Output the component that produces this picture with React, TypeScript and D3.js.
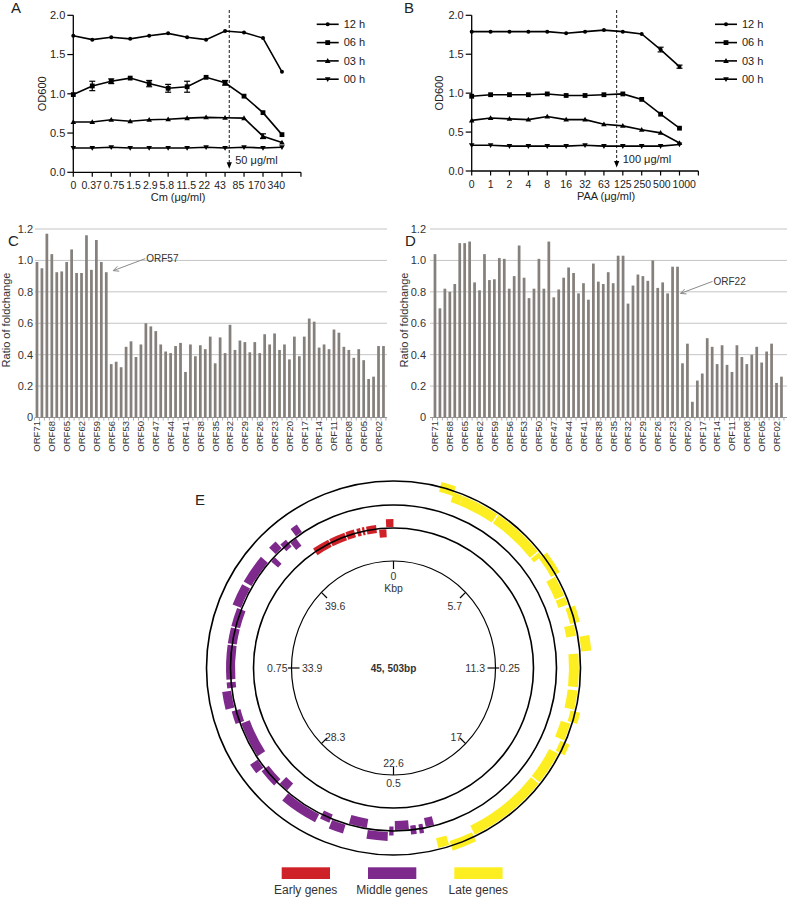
import React from "react";
import * as d3 from "d3";

const FONT = "'Liberation Sans', Arial, Helvetica, sans-serif";

// ---------------- Panel A (Cm) ----------------
const cmTickLabels = ["0", "0.37", "0.75", "1.5", "2.9", "5.8", "11.5", "22", "43", "85", "170", "340"];
const cmConc = [0, 0.37, 0.75, 1.5, 2.9, 5.8, 11.5, 22, 43, 85, 170, 340];
const cm12h = [1.74, 1.69, 1.72, 1.70, 1.74, 1.77, 1.72, 1.69, 1.80, 1.78, 1.71, 1.28];
const cm06h = [0.99, 1.10, 1.16, 1.20, 1.13, 1.07, 1.09, 1.21, 1.14, 0.97, 0.76, 0.48];
const cm03h = [0.64, 0.64, 0.67, 0.65, 0.67, 0.675, 0.69, 0.70, 0.695, 0.69, 0.46, 0.38];
const cm00h = [0.31, 0.31, 0.32, 0.31, 0.31, 0.31, 0.31, 0.32, 0.31, 0.32, 0.31, 0.32];
const cm06hErr = [0, 0.06, 0.03, 0, 0.04, 0.05, 0.07, 0, 0.03, 0, 0, 0];
const cm03hErr = [0, 0, 0, 0, 0, 0, 0, 0, 0, 0, 0.03, 0];
const cmCutoff = 50;

// ---------------- Panel B (PAA) ----------------
const paaTickLabels = ["0", "1", "2", "4", "8", "16", "32", "63", "125", "250", "500", "1000"];
const paaConc = [0, 1, 2, 4, 8, 16, 32, 63, 125, 250, 500, 1000];
const paa12h = [1.79, 1.79, 1.79, 1.79, 1.79, 1.77, 1.79, 1.81, 1.79, 1.76, 1.56, 1.34];
const paa06h = [0.96, 0.98, 0.98, 0.98, 0.99, 0.97, 0.97, 0.98, 0.99, 0.92, 0.73, 0.55];
const paa03h = [0.65, 0.68, 0.67, 0.66, 0.70, 0.66, 0.66, 0.60, 0.58, 0.53, 0.49, 0.36];
const paa00h = [0.33, 0.33, 0.32, 0.32, 0.32, 0.32, 0.33, 0.32, 0.32, 0.32, 0.32, 0.34];
const paa12hErr = [0, 0, 0, 0, 0, 0, 0, 0, 0, 0, 0.03, 0.02];
const paaCutoff = 100;

const timeLabels = ["12 h", "06 h", "03 h", "00 h"];
const odTicks = [0, 0.5, 1.0, 1.5, 2.0];

// ---------------- Panels C / D ----------------
const orfNames = d3.range(71, 0, -1).map((n) => "ORF" + String(n).padStart(2, "0"));
const foldCm = [
  0.99, 0.95, 1.17, 1.04, 0.925, 0.93, 0.99, 1.07, 0.92, 0.92, 1.16, 0.94, 1.13, 0.99, 0.925,
  0.34, 0.355, 0.32, 0.45, 0.485, 0.385, 0.465, 0.60, 0.58, 0.55, 0.465, 0.42, 0.41, 0.455, 0.475,
  0.29, 0.465, 0.39, 0.46, 0.435, 0.515, 0.345, 0.51, 0.41, 0.59, 0.43, 0.49, 0.48, 0.415, 0.48,
  0.41, 0.53, 0.465, 0.535, 0.43, 0.465, 0.37, 0.515, 0.39, 0.515, 0.63, 0.61, 0.445, 0.465, 0.435,
  0.56, 0.54, 0.45, 0.43, 0.38, 0.435, 0.365, 0.245, 0.26, 0.455, 0.455,
];
const foldPaa = [
  1.04, 0.695, 0.82, 0.80, 0.85, 1.11, 1.11, 1.12, 0.86, 0.81,
  1.04, 0.875, 0.88, 1.015, 1.01, 0.82, 0.90, 1.095, 0.89, 0.76,
  0.82, 1.01, 0.82, 1.12, 0.765, 0.815, 0.89, 0.955, 0.92, 0.79,
  0.855, 0.75, 0.98, 0.865, 0.85, 0.925, 0.855, 1.03, 1.03, 0.725,
  0.84, 0.91, 0.90, 0.87, 1.00, 0.825, 0.86, 0.79, 0.96, 0.96,
  0.345, 0.47, 0.10, 0.235, 0.28, 0.505, 0.45, 0.34, 0.46, 0.335,
  0.29, 0.46, 0.385, 0.34, 0.40, 0.45, 0.35, 0.42, 0.47, 0.22, 0.26,
];
const ratioTicks = [0, 0.2, 0.4, 0.6, 0.8, 1.0, 1.2];
const ratioTickLabels = ["0", "0.2", "0.4", "0.6", "0.8", "1.0", "1.2"];

// ---------------- Panel E ----------------
const genomeKb = 45.503;
const genomeLabel = "45, 503bp";
const scaleTickLabels = ["0", "5.7", "11.3", "17", "22.6", "28.3", "33.9", "39.6"];
const fractionLabels = ["0.25", "0.5", "0.75"];
// [start kb, end kb, lane (-1 inner, 0 on ring, 1 outer)]
const earlyGenes = [
  [41.21, 42.09, 0], [42.15, 42.98, 0], [43.04, 43.48, 0], [43.61, 43.8, 0],
  [43.89, 44.01, 0], [44.11, 44.62, 0], [44.75, 45.13, -1], [45.13, 45.5, 1],
];
const middleGenes = [
  [20.92, 21.3, -1], [21.42, 21.61, 0], [21.74, 21.99, 0], [22.06, 22.69, -1], [22.75, 22.94, 0],
  [23.0, 23.89, 1], [23.95, 24.77, -1], [24.9, 25.53, 1], [25.6, 26.04, 0], [26.16, 27.81, 1],
  [27.93, 28.38, -1], [28.5, 29.32, 0], [29.39, 29.83, 1], [29.96, 31.6, -1], [31.66, 32.23, 0],
  [32.36, 33.12, 1], [33.24, 33.5, 0], [33.62, 35.14, 0], [35.2, 35.9, 0], [35.96, 36.78, 0],
  [36.85, 37.79, 1], [37.92, 39.18, 1], [39.31, 39.56, -1], [39.69, 40.07, 1], [40.13, 40.45, 0],
  [40.51, 40.83, -1], [40.89, 41.21, 1],
];
const lateGenes = [
  [1.83, 2.4, 0], [2.4, 2.78, -1], [2.78, 4.3, -1], [4.36, 6.45, -1], [6.51, 6.7, -1],
  [6.7, 7.58, 0], [7.65, 8.47, -1], [8.53, 8.85, -1], [8.97, 9.61, 0], [9.67, 10.11, -1],
  [10.17, 10.74, 1], [10.81, 12.13, -1], [12.26, 13.02, -1], [13.08, 13.52, 0], [13.59, 14.28, -1],
  [14.35, 14.79, 0], [14.85, 16.18, -1], [16.24, 19.47, -1], [19.53, 20.48, 0], [20.54, 20.98, -1],
];
const geneGroups = ["Early genes", "Middle genes", "Late genes"];
const geneColors = ["#cf2128", "#7d2a8c", "#fcee21"];

// ======================================================
type Series = { name: string; values: number[]; err: number[] | null; marker: string };

function estWidth(s: string, fs: number) {
  let w = 0;
  for (const ch of s) w += ch === "." ? 0.278 : 0.556;
  return w * fs;
}

function Marker({ kind, x, y }: { kind: string; x: number; y: number }) {
  if (kind === "circle") return <circle cx={x} cy={y} r={2} fill="#000" />;
  if (kind === "square") return <rect x={x - 2.4} y={y - 2.4} width={4.8} height={4.8} fill="#000" />;
  if (kind === "up") return <path d={`M${x},${y - 2.8}L${x + 2.8},${y + 2}L${x - 2.8},${y + 2}Z`} fill="#000" />;
  return <path d={`M${x},${y + 2.8}L${x + 2.8},${y - 2}L${x - 2.8},${y - 2}Z`} fill="#000" />;
}

function LinePanel(props: any) {
  const { x0, step, labelStep, yZero, yTwo, tickLabels, conc, series, cutoff, xTitle, xTitleX, legendX, label, labelX, yTitleX } = props;
  const x = d3.scaleLinear().domain([0, 12]).range([x0, x0 + 12 * step]);
  const xl = d3.scaleLinear().domain([0, 12]).range([x0, x0 + 12 * labelStep]);
  const y = d3.scaleLinear().domain([0, 2]).range([yZero, yTwo]);
  const line = d3.line<number>().x((_, i) => x(i)).y((d) => y(d));
  let ci = 0;
  for (let i = 1; i < conc.length - 1; i++) {
    if (conc[i] <= cutoff && cutoff < conc[i + 1]) ci = i + Math.log(cutoff / conc[i]) / Math.log(conc[i + 1] / conc[i]);
  }
  const cx = x(ci);
  // non-overlapping tick label layout
  const fs = 10.5;
  let prevEnd = -1e9;
  const labelPos = tickLabels.map((t: string, i: number) => {
    const w = estWidth(t, fs);
    let start = xl(i) - w / 2;
    if (start < prevEnd + 2) start = prevEnd + 2;
    prevEnd = start + w;
    return start + w / 2;
  });
  return (
    <g>
      <text x={labelX} y={13} fontSize={15} fill="#222">{label}</text>
      <line x1={x0} x2={x0} y1={yZero} y2={yTwo} stroke="#000" strokeWidth={1.3} />
      <line x1={x0} x2={x(12)} y1={yZero} y2={yZero} stroke="#000" strokeWidth={1.3} />
      {odTicks.map((v) => (
        <g key={v}>
          <line x1={x0 - 6} x2={x0} y1={y(v)} y2={y(v)} stroke="#000" strokeWidth={1.2} />
          <text x={x0 - 8} y={y(v)} dy="0.35em" textAnchor="end" fontSize={11} fill="#222">{v.toFixed(1)}</text>
        </g>
      ))}
      {d3.range(13).map((i) => (
        <line key={i} x1={x(i)} x2={x(i)} y1={yZero} y2={yZero + 4.5} stroke="#000" strokeWidth={1.2} />
      ))}
      {tickLabels.map((t: string, i: number) => (
        <text key={t} x={labelPos[i]} y={yZero + 17} textAnchor="middle" fontSize={fs} fill="#222">{t}</text>
      ))}
      <text x={xTitleX} y={yZero + 28.5} textAnchor="middle" fontSize={11} fill="#222">{xTitle}</text>
      <text transform={`translate(${yTitleX},${(yZero + yTwo) / 2}) rotate(-90)`} dy="0.35em" textAnchor="middle" fontSize={11} fill="#222">OD600</text>
      {series.map((s: Series) => (
        <g key={s.name}>
          <path d={line(s.values) || ""} fill="none" stroke="#000" strokeWidth={1.6} />
          {s.err && s.values.map((v, i) => s.err![i] > 0 ? (
            <g key={i} stroke="#000" strokeWidth={1.2}>
              <line x1={x(i)} x2={x(i)} y1={y(v - s.err![i])} y2={y(v + s.err![i])} />
              <line x1={x(i) - 3} x2={x(i) + 3} y1={y(v - s.err![i])} y2={y(v - s.err![i])} />
              <line x1={x(i) - 3} x2={x(i) + 3} y1={y(v + s.err![i])} y2={y(v + s.err![i])} />
            </g>
          ) : null)}
          {s.values.map((v, i) => <Marker key={i} kind={s.marker} x={x(i)} y={y(v)} />)}
        </g>
      ))}
      <line x1={cx} x2={cx} y1={10} y2={yZero - 9} stroke="#000" strokeWidth={0.9} strokeDasharray="3,2" />
      <path d={`M${cx - 2.6},${yZero - 10}L${cx + 2.6},${yZero - 10}L${cx},${yZero - 3.5}Z`} fill="#000" />
      <text x={cx + 6} y={yZero - 8.5} fontSize={11} fill="#222">{`${cutoff} μg/ml`}</text>
      {series.map((s: Series, i: number) => {
        const ly = 24.3 + i * 18.3;
        return (
          <g key={s.name}>
            <line x1={legendX} x2={legendX + 22} y1={ly} y2={ly} stroke="#000" strokeWidth={1.6} />
            <Marker kind={s.marker} x={legendX + 11} y={ly} />
            <text x={legendX + 27} y={ly} dy="0.35em" fontSize={11} fill="#222">{s.name}</text>
          </g>
        );
      })}
    </g>
  );
}

function BarPanel(props: any) {
  const { values, gridLeft, gridRight, barStart, label, labelX, yTitleX, tickRight, annot } = props;
  const step = 4.95;
  const x = d3.scaleBand().domain(orfNames).range([barStart, barStart + orfNames.length * step]).paddingInner(0.45).paddingOuter(0.225);
  const y = d3.scaleLinear().domain([0, 1.2]).range([417.5, 229]);
  const bw = x.bandwidth();
  const tipX = (x(annot.name) as number) + bw / 2 + annot.dx;
  const tipY = y(annot.atValue);
  const tailX = tipX + 32;
  const tailY = tipY - 12;
  const ang = Math.atan2(tailY - tipY, tailX - tipX);
  const ah = 6;
  return (
    <g>
      <text x={labelX} y={246} fontSize={15} fill="#222">{label}</text>
      {ratioTicks.map((v, i) => (
        <g key={v}>
          <line x1={gridLeft} x2={gridRight} y1={y(v)} y2={y(v)} stroke={v === 0 ? "#999" : "#c4c4c4"} strokeWidth={1} />
          <text x={tickRight} y={y(v)} dy="0.35em" textAnchor="end" fontSize={11} fill="#333">{ratioTickLabels[i]}</text>
        </g>
      ))}
      {orfNames.map((n, i) => (
        <rect key={n} x={x(n)} y={y(values[i])} width={bw} height={y(0) - y(values[i])} fill="#85807c" />
      ))}
      {d3.range(orfNames.length + 1).map((i) => {
        const xx = barStart + i * step;
        return <line key={i} x1={xx} x2={xx} y1={y(0)} y2={y(0) + 3} stroke="#999" strokeWidth={0.8} />;
      })}
      {orfNames.map((n, i) => i % 3 === 0 ? (
        <text key={n} transform={`translate(${(x(n) as number) + bw / 2},${421}) rotate(-90)`} dy="0.35em" textAnchor="end" fontSize={9.5} fill="#333">{n}</text>
      ) : null)}
      <text transform={`translate(${yTitleX},${320}) rotate(-90)`} dy="0.35em" textAnchor="middle" fontSize={11} fill="#333">Ratio of foldchange</text>
      <g stroke="#8a8a8a" strokeWidth={1} fill="none">
        <line x1={tipX} y1={tipY} x2={tailX} y2={tailY} />
        <line x1={tipX} y1={tipY} x2={tipX + ah * Math.cos(ang + 0.45)} y2={tipY + ah * Math.sin(ang + 0.45)} />
        <line x1={tipX} y1={tipY} x2={tipX + ah * Math.cos(ang - 0.45)} y2={tipY + ah * Math.sin(ang - 0.45)} />
      </g>
      <text x={tailX + 1} y={tailY} dy="0.35em" fontSize={10} fill="#333">{annot.name}</text>
    </g>
  );
}

function GenomePanel() {
  const cx = 393.5, cy = 668;
  const rx = 102, ry = 107;
  const toAng = (kb: number) => (kb / genomeKb) * 2 * Math.PI;
  const arc = d3.arc();
  const tracks = [
    { genes: earlyGenes, r: 140, off: 5, th: 8, color: geneColors[0] },
    { genes: middleGenes, r: 163, off: 5.5, th: 9, color: geneColors[1] },
    { genes: lateGenes, r: 187, off: 6.5, th: 10, color: geneColors[2] },
  ];
  const pt = (th: number, dr: number) => [cx + Math.sin(th) * (rx + dr), cy - Math.cos(th) * (ry + dr)];
  return (
    <g>
      <text x={195} y={505} fontSize={15} fill="#222">E</text>
      {tracks.map((t, k) => (
        <g key={k} transform={`translate(${cx},${cy})`}>
          {t.genes.map((g, i) => (
            <path key={i} d={arc({
              innerRadius: t.r + g[2] * t.off - t.th / 2,
              outerRadius: t.r + g[2] * t.off + t.th / 2,
              startAngle: toAng(g[0]),
              endAngle: toAng(g[1]),
            } as any) || ""} fill={t.color} />
          ))}
        </g>
      ))}
      {[140, 163, 187].map((r) => (
        <circle key={r} cx={cx} cy={cy} r={r} fill="none" stroke="#000" strokeWidth={1.6} />
      ))}
      <ellipse cx={cx} cy={cy} rx={rx} ry={ry} fill="none" stroke="#000" strokeWidth={1.2} />
      {scaleTickLabels.map((lab, i) => {
        const th = (i / 8) * 2 * Math.PI;
        const s = Math.sin(th), c = Math.cos(th);
        const side = Math.abs(s) > 0.9;
        const [ax, ay] = pt(th, side ? 3.5 : 0);
        const [bx, by] = pt(th, -8);
        const [lx, ly] = pt(th, side ? -10.5 : -5);
        const anchor = s > 0.3 ? "end" : s < -0.3 ? "start" : "middle";
        const base = c > 0.3 ? 14 : c < -0.9 ? -3.3 : c < -0.3 ? 1 : 3.5;
        return (
          <g key={lab}>
            <line x1={ax} y1={ay} x2={bx} y2={by} stroke="#000" strokeWidth={1.2} />
            <text x={lx} y={ly + base} textAnchor={anchor} fontSize={10.5} fill="#333">{lab}</text>
          </g>
        );
      })}
      <text x={cx} y={592} textAnchor="middle" fontSize={10.5} fill="#333">Kbp</text>
      {fractionLabels.map((lab, j) => {
        const th = ((j + 1) / 4) * 2 * Math.PI;
        const s = Math.sin(th);
        const [lx, ly] = pt(th, Math.abs(s) > 0.9 ? 4 : 12);
        const anchor = s > 0.3 ? "start" : s < -0.3 ? "end" : "middle";
        return (
          <text key={lab} x={lx} y={Math.abs(s) > 0.9 ? ly + 3.5 : ly} textAnchor={anchor} fontSize={10.5} fill="#333">{lab}</text>
        );
      })}
      <text x={cx} y={cy} dy="0.35em" textAnchor="middle" fontSize={10} fontWeight="bold" fill="#333">{genomeLabel}</text>
      {geneGroups.map((g, i) => {
        const lx = 281.7 + i * 86.3;
        return (
          <g key={g}>
            <rect x={lx} y={867.3} width={48.3} height={11.7} fill={geneColors[i]} />
            <text x={lx + 24} y={894} textAnchor="middle" fontSize={12} fill="#333">{g}</text>
          </g>
        );
      })}
    </g>
  );
}

export default function App() {
  const seriesA: Series[] = [
    { name: timeLabels[0], values: cm12h, err: null, marker: "circle" },
    { name: timeLabels[1], values: cm06h, err: cm06hErr, marker: "square" },
    { name: timeLabels[2], values: cm03h, err: cm03hErr, marker: "up" },
    { name: timeLabels[3], values: cm00h, err: null, marker: "down" },
  ];
  const seriesB: Series[] = [
    { name: timeLabels[0], values: paa12h, err: paa12hErr, marker: "circle" },
    { name: timeLabels[1], values: paa06h, err: null, marker: "square" },
    { name: timeLabels[2], values: paa03h, err: null, marker: "up" },
    { name: timeLabels[3], values: paa00h, err: null, marker: "down" },
  ];
  return (
    <svg width={787} height={898} style={{ position: "absolute", left: 0, top: 0 }} fontFamily={FONT}>
      <rect width={787} height={898} fill="#fff" />
      <LinePanel x0={73.3} step={18.97} labelStep={18.35} yZero={172.3} yTwo={15.3} tickLabels={cmTickLabels} conc={cmConc}
        series={seriesA} cutoff={cmCutoff} xTitle="Cm (μg/ml)" xTitleX={178} legendX={316.7}
        label="A" labelX={11} yTitleX={41.7} />
      <LinePanel x0={471.7} step={18.89} labelStep={18.89} yZero={171} yTwo={15.3} tickLabels={paaTickLabels} conc={paaConc}
        series={seriesB} cutoff={paaCutoff} xTitle="PAA (μg/ml)" xTitleX={606} legendX={715}
        label="B" labelX={404} yTitleX={439.3} />
      <BarPanel values={foldCm} gridLeft={35} gridRight={387} barStart={34.5} label="C" labelX={8}
        yTitleX={6} tickRight={33} annot={{ name: "ORF57", atValue: 0.935, dx: 7 }} />
      <BarPanel values={foldPaa} gridLeft={430} gridRight={787} barStart={432.5} label="D" labelX={405}
        yTitleX={404} tickRight={426} annot={{ name: "ORF22", atValue: 0.79, dx: 3 }} />
      <GenomePanel />
    </svg>
  );
}
